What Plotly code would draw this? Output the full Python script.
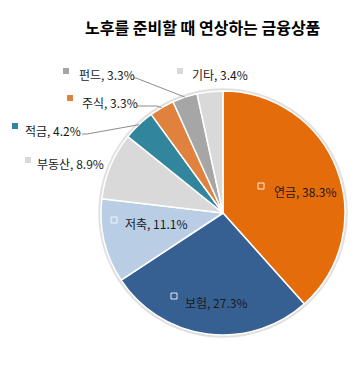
import math
import plotly.graph_objects as go

# ---- data ----
labels = ["연금", "보험", "저축", "부동산", "적금", "주식", "펀드", "기타"]
values = [38.3, 27.3, 11.1, 8.9, 4.2, 3.3, 3.3, 3.4]
colors = ["#E46C0A", "#376092", "#B9CDE5", "#D9D9D9", "#31859C", "#E0823D", "#A6A6A6", "#D9D9D9"]
title_text = "노후를 준비할 때 연상하는 금융상품"

# ---- layout (page pixels) ----
OFF = 8                      # default body margin of the page
W, H = 357 - 2 * OFF, 368 - 2 * OFF
CX, CY, R = 223, 213, 122
FONT = "Noto Sans CJK KR"

def px(x):
    return (x - OFF) / W

def py(y):
    return 1 - (y - OFF) / H

# label placement: (square x, square y, text x, text y, inside, leader-line start + horizontal run or None)
label_pos = {
    "연금": (258, 183, 272, 191, True, None),
    "보험": (171, 293, 183, 302, True, None),
    "저축": (111, 217, 123, 223, True, None),
    "부동산": (25, 157, 35, 164, False, None),
    "적금": (12, 123, 23, 131, False, (82, 134, 5)),
    "주식": (67, 95, 80, 102, False, (137, 106, 19)),
    "펀드": (63, 68, 77, 75, False, (133, 78, 3)),
    "기타": (177, 68, 190, 75, False, None),
}

fig = go.Figure(go.Pie(
    labels=labels,
    values=values,
    sort=False,
    direction="clockwise",
    rotation=0,
    marker=dict(colors=colors, line=dict(color="white", width=1.5)),
    textinfo="none",
    hoverinfo="label+percent",
    showlegend=False,
    domain=dict(x=[px(CX - R), px(CX + R)], y=[py(CY + R), py(CY - R)]),
))

shapes = []
annotations = []

# soft shadow ring around pie
shapes.append(dict(type="circle", xref="paper", yref="paper",
                   x0=px(CX - R - 1), x1=px(CX + R + 1), y0=py(CY + R + 1), y1=py(CY - R - 1),
                   line=dict(color="rgba(0,0,0,0.12)", width=3.5), layer="below"))

total = sum(values)
cum = 0.0
for lab, val, col in zip(labels, values, colors):
    mid = (cum + val / 2) / total
    cum += val
    ang = 2 * math.pi * mid
    ex, ey = CX + R * math.sin(ang), CY - R * math.cos(ang)
    sx, sy, tx, ty, inside, ls = label_pos[lab]
    s = 6
    if inside:
        shapes.append(dict(type="rect", xref="paper", yref="paper",
                           x0=px(sx), x1=px(sx + s), y0=py(sy + s), y1=py(sy),
                           line=dict(color="rgba(255,255,255,0.85)", width=1), fillcolor=col))
    else:
        shapes.append(dict(type="rect", xref="paper", yref="paper",
                           x0=px(sx), x1=px(sx + s), y0=py(sy + s), y1=py(sy),
                           line=dict(width=0), fillcolor=col))
    if ls is not None:
        lx, ly, run = ls
        path = f"M {px(lx)} {py(ly)} L {px(lx + run)} {py(ly)} L {px(ex)} {py(ey)}"
        shapes.append(dict(type="path", xref="paper", yref="paper", path=path,
                           line=dict(color="#8C8C8C", width=1)))
    annotations.append(dict(
        text=f"{lab}, {val}%", x=px(tx), y=py(ty), xref="paper", yref="paper",
        xanchor="left", yanchor="middle", showarrow=False,
        font=dict(family=FONT, size=12, color="#1A1A1A")))

annotations.append(dict(
    text=f"<b>{title_text}</b>", x=px(203), y=py(27), xref="paper", yref="paper",
    xanchor="center", yanchor="middle", showarrow=False,
    font=dict(family=FONT, size=16, color="#000000")))

fig.update_layout(
    width=W, height=H,
    margin=dict(l=0, r=0, t=0, b=0),
    paper_bgcolor="white", plot_bgcolor="white",
    shapes=shapes, annotations=annotations,
)

fig.write_html("out.html")
